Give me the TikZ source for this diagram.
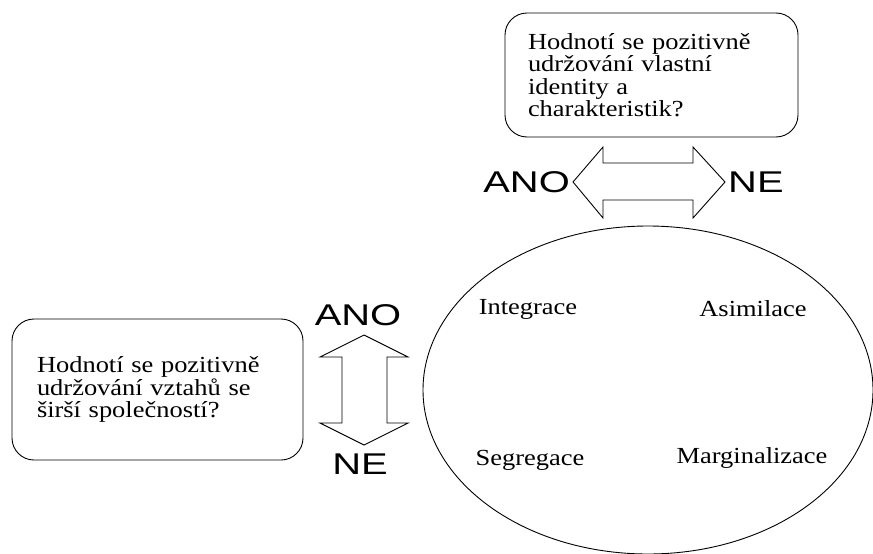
\documentclass[tikz,border=0pt]{standalone}
\usepackage{fontspec}
\setmainfont{Liberation Serif}
\newfontfamily\qfont[FakeStretch=1.15]{Liberation Serif}
\newfontfamily\ynfont[FakeStretch=1.33]{Liberation Sans}
\usetikzlibrary{shapes.geometric}
\tikzset{
  question/.style={
    draw, rounded corners=22pt, line width=0.9pt, align=left,
    font=\qfont\fontsize{23}{22.5}\selectfont, inner ysep=0pt,
  },
  answer/.style  ={font=\ynfont\fontsize{30}{30}\selectfont, inner sep=0pt},
  strategy/.style={font=\qfont\fontsize{23}{23}\selectfont, inner sep=0pt},
  bigarrow/.style={draw, line width=0.9pt, fill=white, line join=miter},
}

\begin{document}
\begin{tikzpicture}[x=1pt, y=-1pt]
\useasboundingbox (0,0) rectangle (873,554);

% ------------------------------------------------------------- questions
\node[question, inner xsep=23pt, text width=247pt, minimum height=124pt]
  (identity) at (651.5,75)
  {Hodnotí se pozitivně\\udržování vlastní\\identity a\\charakteristik?};
\node[question, inner xsep=25pt, text width=241pt, minimum height=141pt]
  (society) at (157.5,389.5)
  {Hodnotí se pozitivně\\udržování vztahů se\\širší společností?};

% ------------------------------------------------------------- the two double arrows
\coordinate (hmid) at (649,182);
\draw[bigarrow] (573,182) -- (603,147) -- (603,163) -- (693,163) -- (693,147)
  -- (725,182) -- (693,218) -- (693,200) -- (603,200) -- (603,218) -- cycle;
\node[answer, anchor=east] (hano) at (570,182) {ANO};
\node[answer, anchor=west] (hne)  at (728,182) {NE};

\coordinate (vmid) at (364,390);
\draw[bigarrow] (364,335) -- (408,357) -- (387,357) -- (387,423) -- (408,423)
  -- (364,445) -- (320,423) -- (342,423) -- (342,357) -- (320,357) -- cycle;
\node[answer] (vano) at (358,315) {ANO};
\node[answer] (vne)  at (360,464) {NE};

% ------------------------------------------------------------- the four strategies
\node[draw, ellipse, line width=0.9pt, minimum width=450pt, minimum height=328pt,
  inner sep=0pt] (circ) at (648,390) {};
\node[strategy] (integ) at (528,309) {Integrace};
\node[strategy] (asim)  at (753,309) {Asimilace};
\node[strategy] (segr)  at (530,460) {Segregace};
\node[strategy] (marg)  at (752,458) {Marginalizace};

\end{tikzpicture}
\end{document}
